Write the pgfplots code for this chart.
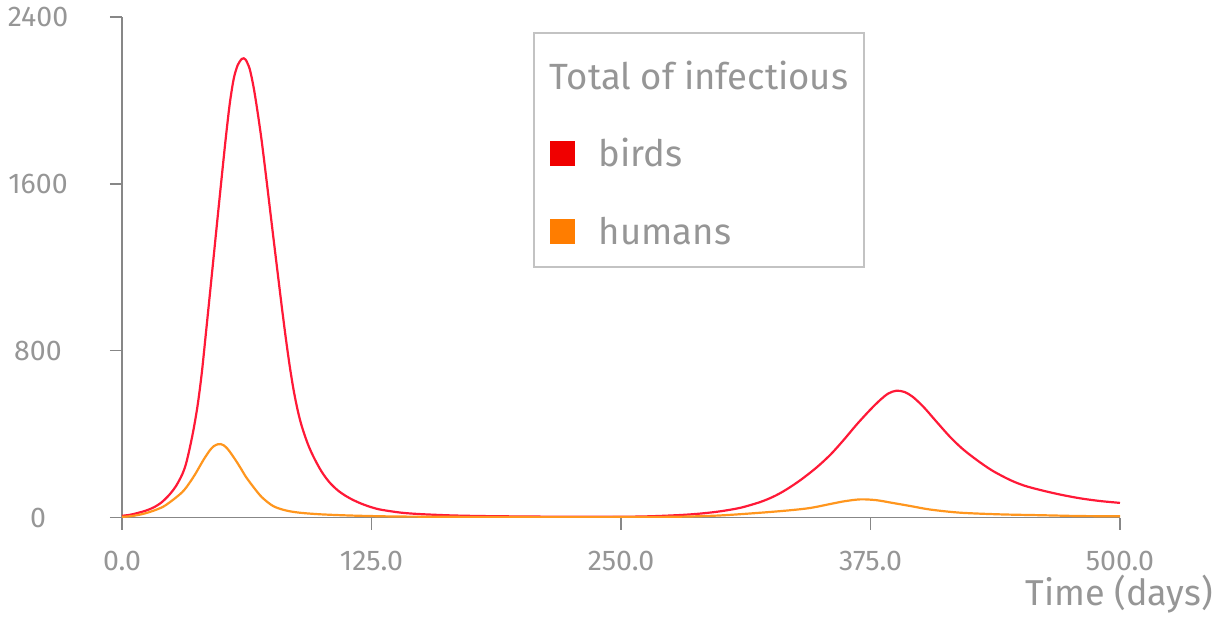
\documentclass[border=0pt]{standalone}
\usepackage{fontspec}
\setmainfont{Fira Sans}
\usepackage{pgfplots}
\pgfplotsset{compat=1.18}
\definecolor{txtgray}{RGB}{150,150,150}
\definecolor{axgray}{RGB}{135,135,135}
\definecolor{leggray}{RGB}{195,195,195}
\definecolor{birdline}{RGB}{255,25,55}
\definecolor{humanline}{RGB}{255,150,30}
\definecolor{birdsq}{RGB}{240,0,0}
\definecolor{humansq}{RGB}{255,125,0}
\begin{document}
\begin{tikzpicture}
\useasboundingbox (-122pt,-100.5pt) rectangle (1104pt,517.5pt);
\begin{axis}[
  at={(0pt,0pt)}, anchor=south west,
  scale only axis, width=998pt, height=500.5pt,
  xmin=0, xmax=500, ymin=0, ymax=2400,
  axis lines*=left,
  axis line style={axgray, line width=1.5pt},
  tick style={axgray, line width=1.5pt},
  tick align=outside, major tick length=12pt,
  xtick={0,125,250,375,500}, xticklabels={0.0,125.0,250.0,375.0,500.0},
  ytick={0,800,1600,2400}, yticklabels={0,800,1600,2400},
  ticklabel style={font=\fontsize{28.5}{32}\selectfont, text=txtgray, inner sep=0pt},
  xticklabel style={anchor=base, yshift=-40.5pt},
  yticklabel style={anchor=center, xshift=-72pt},
  xlabel={Time (days)},
  xlabel style={at={(axis description cs:1,0)}, anchor=base east, xshift=93pt, yshift=-87.5pt, inner sep=0pt, font=\fontsize{36}{40}\selectfont, text=txtgray},
  legend cell align=left,
  legend style={at={(rel axis cs:0.4118,0.970)}, anchor=north west,
    draw=leggray, line width=2pt, fill=white,
    inner xsep=16pt, inner ysep=15pt,
    font=\fontsize{36.5}{40}\selectfont, text=txtgray,
    nodes={inner sep=0pt, text height=41pt, text depth=8pt},
    column sep=24pt, row sep=28.5pt},
]
\addlegendimage{legend image code/.code={}}
\addlegendentry{\hspace*{-49pt}Total of infectious}
\addplot[birdline, line width=2.2pt, smooth,
  legend image code/.code={\path[draw=none,fill=none] (0pt,-20pt) rectangle (25pt,20pt);\fill[birdsq,draw=none] (0pt,-16pt) rectangle (25pt,9pt);}]
coordinates {
(0,8) (4,13) (8,22) (12,33) (16,49) (20,74) (24,112) (27,150) (30,203) (32,255)
(34,335) (36,430) (38,545) (40,695) (42,880) (44,1068) (46,1258) (48,1448) (50,1636)
(52,1820) (54,1985) (56,2105) (58,2170) (60,2199) (61,2202) (62,2195) (64,2150)
(66,2060) (68,1940) (70,1805) (72,1650) (74,1490) (76,1330) (78,1172) (80,1015)
(82,865) (84,728) (86,610) (88,515) (90,440) (93,355) (96,290) (100,220) (104,168)
(108,131) (112,104) (116,83) (120,66) (125,49) (130,37) (140,23) (150,16) (165,10)
(180,7) (200,5) (225,3.5) (250,3.5) (265,6) (280,12) (290,19) (300,30) (310,47)
(320,75) (327,103) (333,135) (340,180) (348,240) (355,302) (361.4,370) (368,445)
(374.7,515) (380,565) (384,595) (388,608) (392,602) (396,580) (401.5,531) (408,460)
(414.8,387) (421,330) (428.2,276) (436,225) (444.9,180) (452,153) (460,132) (470,110)
(480,92) (490,79) (500,70)
};
\addlegendentry{birds}
\addplot[humanline, line width=2.2pt, smooth,
  legend image code/.code={\path[draw=none,fill=none] (0pt,-20pt) rectangle (25pt,20pt);\fill[humansq,draw=none] (0pt,-16pt) rectangle (25pt,9pt);}]
coordinates {
(0,3) (5,7) (10,16) (15,30) (20.7,52) (26,88) (30,120) (32.5,148) (36.5,205) (40.8,276)
(44,322) (46,342) (48,351) (49.5,352) (51,346) (53,328) (55,302) (57.4,268) (60,228)
(62,196) (65.7,148) (70,98) (75.7,55) (82,34) (89,23) (100,15) (116,9) (135,5) (150,4)
(200,2) (250,2) (280,4) (300,10) (320,23) (335,35) (345,46) (355,65) (362,78) (370,87)
(378,83) (386,70) (395,55) (405,38) (420,23) (440,15) (460,11) (480,7) (500,6)
};
\addlegendentry{humans}
\end{axis}
\end{tikzpicture}
\end{document}
